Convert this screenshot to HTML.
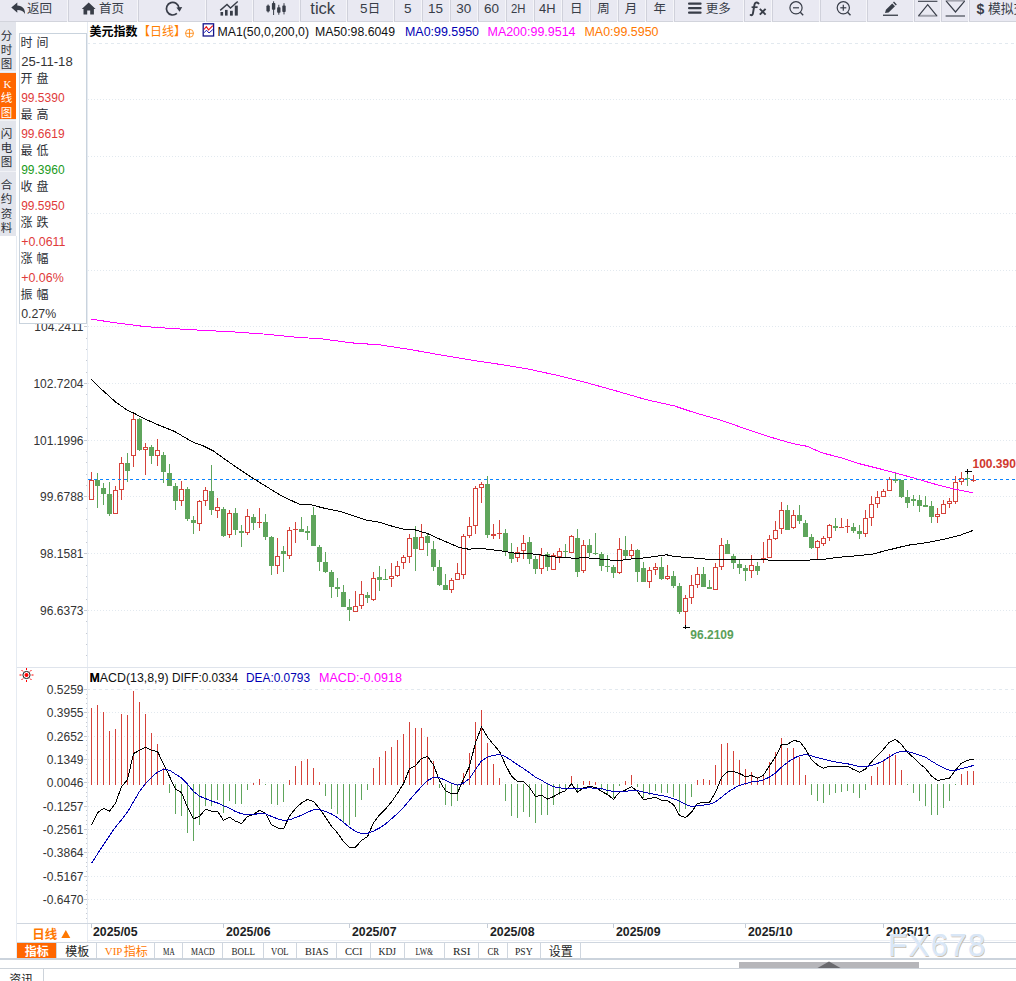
<!DOCTYPE html><html><head><meta charset="utf-8"><title>chart</title><style>html,body{margin:0;padding:0;background:#fff}svg{display:block}</style></head><body><svg width="1016" height="981" viewBox="0 0 1016 981" font-family="'Liberation Sans', 'Noto Sans CJK SC', sans-serif" font-size="12">
<rect x="0" y="0" width="1016" height="981" fill="#fff"/>
<g shape-rendering="crispEdges">
<line x1="88" y1="43.5" x2="1016" y2="43.5" stroke="#e2e9ef" stroke-width="1" stroke-dasharray="3 3" stroke-dashoffset="1"/>
<line x1="88" y1="99.5" x2="1016" y2="99.5" stroke="#e2e9ef" stroke-width="1" stroke-dasharray="1 2"/>
<line x1="88" y1="156.5" x2="1016" y2="156.5" stroke="#e2e9ef" stroke-width="1" stroke-dasharray="1 2"/>
<line x1="88" y1="213.5" x2="1016" y2="213.5" stroke="#e2e9ef" stroke-width="1" stroke-dasharray="1 2"/>
<line x1="88" y1="270.5" x2="1016" y2="270.5" stroke="#e2e9ef" stroke-width="1" stroke-dasharray="1 2"/>
<line x1="88" y1="326.5" x2="1016" y2="326.5" stroke="#e2e9ef" stroke-width="1" stroke-dasharray="1 2"/>
<line x1="88" y1="383.5" x2="1016" y2="383.5" stroke="#e2e9ef" stroke-width="1" stroke-dasharray="1 2"/>
<line x1="88" y1="440.5" x2="1016" y2="440.5" stroke="#e2e9ef" stroke-width="1" stroke-dasharray="1 2"/>
<line x1="88" y1="496.5" x2="1016" y2="496.5" stroke="#e2e9ef" stroke-width="1" stroke-dasharray="1 2"/>
<line x1="88" y1="553.5" x2="1016" y2="553.5" stroke="#e2e9ef" stroke-width="1" stroke-dasharray="1 2"/>
<line x1="88" y1="610.5" x2="1016" y2="610.5" stroke="#e2e9ef" stroke-width="1" stroke-dasharray="1 2"/>
<line x1="88" y1="689.5" x2="1016" y2="689.5" stroke="#e2e9ef" stroke-width="1" stroke-dasharray="3 3" stroke-dashoffset="1"/>
<line x1="88" y1="712.5" x2="1016" y2="712.5" stroke="#e2e9ef" stroke-width="1" stroke-dasharray="1 2"/>
<line x1="88" y1="736.5" x2="1016" y2="736.5" stroke="#e2e9ef" stroke-width="1" stroke-dasharray="1 2"/>
<line x1="88" y1="759.5" x2="1016" y2="759.5" stroke="#e2e9ef" stroke-width="1" stroke-dasharray="1 2"/>
<line x1="88" y1="782.5" x2="1016" y2="782.5" stroke="#e2e9ef" stroke-width="1" stroke-dasharray="1 2"/>
<line x1="88" y1="806.5" x2="1016" y2="806.5" stroke="#e2e9ef" stroke-width="1" stroke-dasharray="1 2"/>
<line x1="88" y1="829.5" x2="1016" y2="829.5" stroke="#e2e9ef" stroke-width="1" stroke-dasharray="1 2"/>
<line x1="88" y1="852.5" x2="1016" y2="852.5" stroke="#e2e9ef" stroke-width="1" stroke-dasharray="1 2"/>
<line x1="88" y1="876.5" x2="1016" y2="876.5" stroke="#e2e9ef" stroke-width="1" stroke-dasharray="1 2"/>
<line x1="88" y1="899.5" x2="1016" y2="899.5" stroke="#e2e9ef" stroke-width="1" stroke-dasharray="1 2"/>
<line x1="16.5" y1="236" x2="16.5" y2="959" stroke="#e6ebf2" stroke-width="1"/>
<line x1="87.5" y1="21" x2="87.5" y2="942" stroke="#e6ebf2" stroke-width="1"/>
<line x1="17" y1="667.5" x2="1016" y2="667.5" stroke="#dfe4ec" stroke-width="1"/>
<line x1="17" y1="923.5" x2="1016" y2="923.5" stroke="#cfd6df" stroke-width="1"/>
<rect x="84" y="42" width="3" height="1" fill="#c6cad2"/>
<rect x="86" y="54" width="1" height="1" fill="#c6cad2"/>
<rect x="86" y="65" width="1" height="1" fill="#c6cad2"/>
<rect x="86" y="77" width="1" height="1" fill="#c6cad2"/>
<rect x="86" y="88" width="1" height="1" fill="#c6cad2"/>
<rect x="84" y="99" width="3" height="1" fill="#c6cad2"/>
<rect x="86" y="111" width="1" height="1" fill="#c6cad2"/>
<rect x="86" y="122" width="1" height="1" fill="#c6cad2"/>
<rect x="86" y="133" width="1" height="1" fill="#c6cad2"/>
<rect x="86" y="145" width="1" height="1" fill="#c6cad2"/>
<rect x="84" y="156" width="3" height="1" fill="#c6cad2"/>
<rect x="86" y="167" width="1" height="1" fill="#c6cad2"/>
<rect x="86" y="179" width="1" height="1" fill="#c6cad2"/>
<rect x="86" y="190" width="1" height="1" fill="#c6cad2"/>
<rect x="86" y="201" width="1" height="1" fill="#c6cad2"/>
<rect x="84" y="213" width="3" height="1" fill="#c6cad2"/>
<rect x="86" y="224" width="1" height="1" fill="#c6cad2"/>
<rect x="86" y="235" width="1" height="1" fill="#c6cad2"/>
<rect x="86" y="247" width="1" height="1" fill="#c6cad2"/>
<rect x="86" y="258" width="1" height="1" fill="#c6cad2"/>
<rect x="84" y="270" width="3" height="1" fill="#c6cad2"/>
<rect x="86" y="281" width="1" height="1" fill="#c6cad2"/>
<rect x="86" y="292" width="1" height="1" fill="#c6cad2"/>
<rect x="86" y="304" width="1" height="1" fill="#c6cad2"/>
<rect x="86" y="315" width="1" height="1" fill="#c6cad2"/>
<rect x="84" y="326" width="3" height="1" fill="#c6cad2"/>
<rect x="86" y="338" width="1" height="1" fill="#c6cad2"/>
<rect x="86" y="349" width="1" height="1" fill="#c6cad2"/>
<rect x="86" y="360" width="1" height="1" fill="#c6cad2"/>
<rect x="86" y="372" width="1" height="1" fill="#c6cad2"/>
<rect x="84" y="383" width="3" height="1" fill="#c6cad2"/>
<rect x="86" y="394" width="1" height="1" fill="#c6cad2"/>
<rect x="86" y="406" width="1" height="1" fill="#c6cad2"/>
<rect x="86" y="417" width="1" height="1" fill="#c6cad2"/>
<rect x="86" y="428" width="1" height="1" fill="#c6cad2"/>
<rect x="84" y="440" width="3" height="1" fill="#c6cad2"/>
<rect x="86" y="451" width="1" height="1" fill="#c6cad2"/>
<rect x="86" y="462" width="1" height="1" fill="#c6cad2"/>
<rect x="86" y="474" width="1" height="1" fill="#c6cad2"/>
<rect x="86" y="485" width="1" height="1" fill="#c6cad2"/>
<rect x="84" y="496" width="3" height="1" fill="#c6cad2"/>
<rect x="86" y="508" width="1" height="1" fill="#c6cad2"/>
<rect x="86" y="519" width="1" height="1" fill="#c6cad2"/>
<rect x="86" y="531" width="1" height="1" fill="#c6cad2"/>
<rect x="86" y="542" width="1" height="1" fill="#c6cad2"/>
<rect x="84" y="553" width="3" height="1" fill="#c6cad2"/>
<rect x="86" y="565" width="1" height="1" fill="#c6cad2"/>
<rect x="86" y="576" width="1" height="1" fill="#c6cad2"/>
<rect x="86" y="587" width="1" height="1" fill="#c6cad2"/>
<rect x="86" y="599" width="1" height="1" fill="#c6cad2"/>
<rect x="84" y="610" width="3" height="1" fill="#c6cad2"/>
<rect x="86" y="621" width="1" height="1" fill="#c6cad2"/>
<rect x="86" y="633" width="1" height="1" fill="#c6cad2"/>
<rect x="86" y="644" width="1" height="1" fill="#c6cad2"/>
<rect x="86" y="655" width="1" height="1" fill="#c6cad2"/>
<rect x="84" y="689" width="3" height="1" fill="#c6cad2"/>
<rect x="86" y="694" width="1" height="1" fill="#c6cad2"/>
<rect x="86" y="698" width="1" height="1" fill="#c6cad2"/>
<rect x="86" y="703" width="1" height="1" fill="#c6cad2"/>
<rect x="86" y="708" width="1" height="1" fill="#c6cad2"/>
<rect x="84" y="712" width="3" height="1" fill="#c6cad2"/>
<rect x="86" y="717" width="1" height="1" fill="#c6cad2"/>
<rect x="86" y="722" width="1" height="1" fill="#c6cad2"/>
<rect x="86" y="726" width="1" height="1" fill="#c6cad2"/>
<rect x="86" y="731" width="1" height="1" fill="#c6cad2"/>
<rect x="84" y="736" width="3" height="1" fill="#c6cad2"/>
<rect x="86" y="740" width="1" height="1" fill="#c6cad2"/>
<rect x="86" y="745" width="1" height="1" fill="#c6cad2"/>
<rect x="86" y="750" width="1" height="1" fill="#c6cad2"/>
<rect x="86" y="754" width="1" height="1" fill="#c6cad2"/>
<rect x="84" y="759" width="3" height="1" fill="#c6cad2"/>
<rect x="86" y="764" width="1" height="1" fill="#c6cad2"/>
<rect x="86" y="768" width="1" height="1" fill="#c6cad2"/>
<rect x="86" y="773" width="1" height="1" fill="#c6cad2"/>
<rect x="86" y="778" width="1" height="1" fill="#c6cad2"/>
<rect x="84" y="782" width="3" height="1" fill="#c6cad2"/>
<rect x="86" y="787" width="1" height="1" fill="#c6cad2"/>
<rect x="86" y="792" width="1" height="1" fill="#c6cad2"/>
<rect x="86" y="796" width="1" height="1" fill="#c6cad2"/>
<rect x="86" y="801" width="1" height="1" fill="#c6cad2"/>
<rect x="84" y="806" width="3" height="1" fill="#c6cad2"/>
<rect x="86" y="810" width="1" height="1" fill="#c6cad2"/>
<rect x="86" y="815" width="1" height="1" fill="#c6cad2"/>
<rect x="86" y="820" width="1" height="1" fill="#c6cad2"/>
<rect x="86" y="824" width="1" height="1" fill="#c6cad2"/>
<rect x="84" y="829" width="3" height="1" fill="#c6cad2"/>
<rect x="86" y="834" width="1" height="1" fill="#c6cad2"/>
<rect x="86" y="838" width="1" height="1" fill="#c6cad2"/>
<rect x="86" y="843" width="1" height="1" fill="#c6cad2"/>
<rect x="86" y="848" width="1" height="1" fill="#c6cad2"/>
<rect x="84" y="852" width="3" height="1" fill="#c6cad2"/>
<rect x="86" y="857" width="1" height="1" fill="#c6cad2"/>
<rect x="86" y="862" width="1" height="1" fill="#c6cad2"/>
<rect x="86" y="866" width="1" height="1" fill="#c6cad2"/>
<rect x="86" y="871" width="1" height="1" fill="#c6cad2"/>
<rect x="84" y="876" width="3" height="1" fill="#c6cad2"/>
<rect x="86" y="880" width="1" height="1" fill="#c6cad2"/>
<rect x="86" y="885" width="1" height="1" fill="#c6cad2"/>
<rect x="86" y="890" width="1" height="1" fill="#c6cad2"/>
<rect x="86" y="894" width="1" height="1" fill="#c6cad2"/>
<rect x="84" y="899" width="3" height="1" fill="#c6cad2"/>
<rect x="86" y="904" width="1" height="1" fill="#c6cad2"/>
<rect x="86" y="908" width="1" height="1" fill="#c6cad2"/>
<rect x="86" y="913" width="1" height="1" fill="#c6cad2"/>
<rect x="86" y="918" width="1" height="1" fill="#c6cad2"/>
</g>
<text x="83.5" y="330.8" font-size="12" fill="#333" text-anchor="end">104.2411</text>
<text x="83.5" y="387.8" font-size="12" fill="#333" text-anchor="end">102.7204</text>
<text x="83.5" y="444.8" font-size="12" fill="#333" text-anchor="end">101.1996</text>
<text x="83.5" y="500.8" font-size="12" fill="#333" text-anchor="end">99.6788</text>
<text x="83.5" y="557.8" font-size="12" fill="#333" text-anchor="end">98.1581</text>
<text x="83.5" y="614.8" font-size="12" fill="#333" text-anchor="end">96.6373</text>
<text x="83.5" y="693.8" font-size="12" fill="#333" text-anchor="end">0.5259</text>
<text x="83.5" y="716.8" font-size="12" fill="#333" text-anchor="end">0.3955</text>
<text x="83.5" y="740.8" font-size="12" fill="#333" text-anchor="end">0.2652</text>
<text x="83.5" y="763.8" font-size="12" fill="#333" text-anchor="end">0.1349</text>
<text x="83.5" y="786.8" font-size="12" fill="#333" text-anchor="end">0.0046</text>
<text x="83.5" y="810.8" font-size="12" fill="#333" text-anchor="end">-0.1257</text>
<text x="83.5" y="833.8" font-size="12" fill="#333" text-anchor="end">-0.2561</text>
<text x="83.5" y="856.8" font-size="12" fill="#333" text-anchor="end">-0.3864</text>
<text x="83.5" y="880.8" font-size="12" fill="#333" text-anchor="end">-0.5167</text>
<text x="83.5" y="903.8" font-size="12" fill="#333" text-anchor="end">-0.6470</text>
<g shape-rendering="crispEdges">
<rect x="91" y="472" width="1" height="28" fill="#d5423a"/>
<rect x="89" y="480" width="5" height="20" fill="#d5423a"/>
<rect x="90" y="481" width="3" height="18" fill="#fff"/>
<rect x="97" y="473" width="1" height="35" fill="#5fa55c"/>
<rect x="95" y="480" width="5" height="6" fill="#5fa55c"/>
<rect x="103" y="483" width="1" height="22" fill="#5fa55c"/>
<rect x="101" y="488" width="5" height="6" fill="#5fa55c"/>
<rect x="109" y="482" width="1" height="34" fill="#5fa55c"/>
<rect x="107" y="494" width="5" height="20" fill="#5fa55c"/>
<rect x="115" y="486" width="1" height="28" fill="#d5423a"/>
<rect x="113" y="490" width="5" height="24" fill="#d5423a"/>
<rect x="114" y="491" width="3" height="22" fill="#fff"/>
<rect x="121" y="457" width="1" height="43" fill="#d5423a"/>
<rect x="119" y="463" width="5" height="27" fill="#d5423a"/>
<rect x="120" y="464" width="3" height="25" fill="#fff"/>
<rect x="127" y="453" width="1" height="29" fill="#5fa55c"/>
<rect x="125" y="463" width="5" height="8" fill="#5fa55c"/>
<rect x="133" y="413" width="1" height="54" fill="#d5423a"/>
<rect x="131" y="419" width="5" height="37" fill="#d5423a"/>
<rect x="132" y="420" width="3" height="35" fill="#fff"/>
<rect x="139" y="418" width="1" height="33" fill="#5fa55c"/>
<rect x="137" y="419" width="5" height="31" fill="#5fa55c"/>
<rect x="145" y="443" width="1" height="32" fill="#d5423a"/>
<rect x="143" y="447" width="5" height="3" fill="#d5423a"/>
<rect x="144" y="448" width="3" height="1" fill="#fff"/>
<rect x="151" y="445" width="1" height="19" fill="#5fa55c"/>
<rect x="149" y="447" width="5" height="9" fill="#5fa55c"/>
<rect x="157" y="439" width="1" height="27" fill="#d5423a"/>
<rect x="155" y="450" width="5" height="6" fill="#d5423a"/>
<rect x="156" y="451" width="3" height="4" fill="#fff"/>
<rect x="163" y="452" width="1" height="31" fill="#5fa55c"/>
<rect x="161" y="455" width="5" height="17" fill="#5fa55c"/>
<rect x="169" y="464" width="1" height="22" fill="#5fa55c"/>
<rect x="167" y="473" width="5" height="13" fill="#5fa55c"/>
<rect x="175" y="483" width="1" height="27" fill="#5fa55c"/>
<rect x="173" y="486" width="5" height="15" fill="#5fa55c"/>
<rect x="181" y="481" width="1" height="25" fill="#d5423a"/>
<rect x="179" y="489" width="5" height="12" fill="#d5423a"/>
<rect x="180" y="490" width="3" height="10" fill="#fff"/>
<rect x="187" y="487" width="1" height="34" fill="#5fa55c"/>
<rect x="185" y="489" width="5" height="30" fill="#5fa55c"/>
<rect x="193" y="516" width="1" height="18" fill="#5fa55c"/>
<rect x="191" y="520" width="5" height="3" fill="#5fa55c"/>
<rect x="199" y="500" width="1" height="31" fill="#d5423a"/>
<rect x="197" y="501" width="5" height="23" fill="#d5423a"/>
<rect x="198" y="502" width="3" height="21" fill="#fff"/>
<rect x="205" y="487" width="1" height="19" fill="#d5423a"/>
<rect x="203" y="490" width="5" height="11" fill="#d5423a"/>
<rect x="204" y="491" width="3" height="9" fill="#fff"/>
<rect x="211" y="465" width="1" height="50" fill="#5fa55c"/>
<rect x="209" y="491" width="5" height="19" fill="#5fa55c"/>
<rect x="217" y="498" width="1" height="20" fill="#d5423a"/>
<rect x="215" y="507" width="5" height="4" fill="#d5423a"/>
<rect x="216" y="508" width="3" height="2" fill="#fff"/>
<rect x="223" y="507" width="1" height="30" fill="#5fa55c"/>
<rect x="221" y="509" width="5" height="27" fill="#5fa55c"/>
<rect x="229" y="510" width="1" height="28" fill="#d5423a"/>
<rect x="227" y="513" width="5" height="22" fill="#d5423a"/>
<rect x="228" y="514" width="3" height="20" fill="#fff"/>
<rect x="235" y="508" width="1" height="27" fill="#5fa55c"/>
<rect x="233" y="513" width="5" height="17" fill="#5fa55c"/>
<rect x="241" y="525" width="1" height="22" fill="#5fa55c"/>
<rect x="239" y="531" width="5" height="2" fill="#5fa55c"/>
<rect x="247" y="509" width="1" height="26" fill="#d5423a"/>
<rect x="245" y="516" width="5" height="17" fill="#d5423a"/>
<rect x="246" y="517" width="3" height="15" fill="#fff"/>
<rect x="253" y="514" width="1" height="16" fill="#5fa55c"/>
<rect x="251" y="517" width="5" height="6" fill="#5fa55c"/>
<rect x="259" y="508" width="1" height="20" fill="#d5423a"/>
<rect x="257" y="522" width="5" height="1" fill="#d5423a"/>
<rect x="265" y="514" width="1" height="26" fill="#5fa55c"/>
<rect x="263" y="522" width="5" height="15" fill="#5fa55c"/>
<rect x="271" y="536" width="1" height="39" fill="#5fa55c"/>
<rect x="269" y="537" width="5" height="29" fill="#5fa55c"/>
<rect x="277" y="538" width="1" height="36" fill="#d5423a"/>
<rect x="275" y="556" width="5" height="10" fill="#d5423a"/>
<rect x="276" y="557" width="3" height="8" fill="#fff"/>
<rect x="283" y="546" width="1" height="26" fill="#5fa55c"/>
<rect x="281" y="551" width="5" height="3" fill="#5fa55c"/>
<rect x="289" y="527" width="1" height="32" fill="#d5423a"/>
<rect x="287" y="530" width="5" height="26" fill="#d5423a"/>
<rect x="288" y="531" width="3" height="24" fill="#fff"/>
<rect x="295" y="522" width="1" height="21" fill="#d5423a"/>
<rect x="293" y="529" width="5" height="1" fill="#d5423a"/>
<rect x="301" y="517" width="1" height="15" fill="#5fa55c"/>
<rect x="299" y="529" width="5" height="3" fill="#5fa55c"/>
<rect x="307" y="526" width="1" height="14" fill="#5fa55c"/>
<rect x="305" y="531" width="5" height="2" fill="#5fa55c"/>
<rect x="313" y="507" width="1" height="39" fill="#5fa55c"/>
<rect x="311" y="515" width="5" height="31" fill="#5fa55c"/>
<rect x="319" y="545" width="1" height="26" fill="#5fa55c"/>
<rect x="317" y="547" width="5" height="15" fill="#5fa55c"/>
<rect x="325" y="552" width="1" height="21" fill="#5fa55c"/>
<rect x="323" y="562" width="5" height="10" fill="#5fa55c"/>
<rect x="331" y="570" width="1" height="28" fill="#5fa55c"/>
<rect x="329" y="572" width="5" height="15" fill="#5fa55c"/>
<rect x="337" y="578" width="1" height="19" fill="#5fa55c"/>
<rect x="335" y="587" width="5" height="2" fill="#5fa55c"/>
<rect x="343" y="585" width="1" height="22" fill="#5fa55c"/>
<rect x="341" y="592" width="5" height="15" fill="#5fa55c"/>
<rect x="349" y="599" width="1" height="22" fill="#5fa55c"/>
<rect x="347" y="607" width="5" height="3" fill="#5fa55c"/>
<rect x="355" y="591" width="1" height="21" fill="#d5423a"/>
<rect x="353" y="606" width="5" height="6" fill="#d5423a"/>
<rect x="354" y="607" width="3" height="4" fill="#fff"/>
<rect x="361" y="581" width="1" height="28" fill="#d5423a"/>
<rect x="359" y="594" width="5" height="12" fill="#d5423a"/>
<rect x="360" y="595" width="3" height="10" fill="#fff"/>
<rect x="367" y="592" width="1" height="11" fill="#5fa55c"/>
<rect x="365" y="595" width="5" height="3" fill="#5fa55c"/>
<rect x="373" y="572" width="1" height="29" fill="#d5423a"/>
<rect x="371" y="578" width="5" height="22" fill="#d5423a"/>
<rect x="372" y="579" width="3" height="20" fill="#fff"/>
<rect x="379" y="566" width="1" height="25" fill="#5fa55c"/>
<rect x="377" y="577" width="5" height="3" fill="#5fa55c"/>
<rect x="385" y="569" width="1" height="11" fill="#5fa55c"/>
<rect x="383" y="579" width="5" height="1" fill="#5fa55c"/>
<rect x="391" y="563" width="1" height="24" fill="#d5423a"/>
<rect x="389" y="576" width="5" height="3" fill="#d5423a"/>
<rect x="390" y="577" width="3" height="1" fill="#fff"/>
<rect x="397" y="561" width="1" height="16" fill="#d5423a"/>
<rect x="395" y="566" width="5" height="10" fill="#d5423a"/>
<rect x="396" y="567" width="3" height="8" fill="#fff"/>
<rect x="403" y="555" width="1" height="14" fill="#d5423a"/>
<rect x="401" y="557" width="5" height="6" fill="#d5423a"/>
<rect x="402" y="558" width="3" height="4" fill="#fff"/>
<rect x="409" y="534" width="1" height="29" fill="#d5423a"/>
<rect x="407" y="538" width="5" height="19" fill="#d5423a"/>
<rect x="408" y="539" width="3" height="17" fill="#fff"/>
<rect x="415" y="526" width="1" height="45" fill="#5fa55c"/>
<rect x="413" y="537" width="5" height="12" fill="#5fa55c"/>
<rect x="421" y="524" width="1" height="26" fill="#d5423a"/>
<rect x="419" y="537" width="5" height="13" fill="#d5423a"/>
<rect x="420" y="538" width="3" height="11" fill="#fff"/>
<rect x="427" y="534" width="1" height="22" fill="#5fa55c"/>
<rect x="425" y="536" width="5" height="7" fill="#5fa55c"/>
<rect x="433" y="541" width="1" height="30" fill="#5fa55c"/>
<rect x="431" y="549" width="5" height="18" fill="#5fa55c"/>
<rect x="439" y="560" width="1" height="26" fill="#5fa55c"/>
<rect x="437" y="567" width="5" height="18" fill="#5fa55c"/>
<rect x="445" y="574" width="1" height="16" fill="#5fa55c"/>
<rect x="443" y="585" width="5" height="5" fill="#5fa55c"/>
<rect x="451" y="578" width="1" height="15" fill="#d5423a"/>
<rect x="449" y="580" width="5" height="10" fill="#d5423a"/>
<rect x="450" y="581" width="3" height="8" fill="#fff"/>
<rect x="457" y="563" width="1" height="17" fill="#d5423a"/>
<rect x="455" y="573" width="5" height="7" fill="#d5423a"/>
<rect x="456" y="574" width="3" height="5" fill="#fff"/>
<rect x="463" y="534" width="1" height="45" fill="#d5423a"/>
<rect x="461" y="536" width="5" height="39" fill="#d5423a"/>
<rect x="462" y="537" width="3" height="37" fill="#fff"/>
<rect x="469" y="517" width="1" height="21" fill="#d5423a"/>
<rect x="467" y="526" width="5" height="10" fill="#d5423a"/>
<rect x="468" y="527" width="3" height="8" fill="#fff"/>
<rect x="475" y="486" width="1" height="48" fill="#d5423a"/>
<rect x="473" y="488" width="5" height="38" fill="#d5423a"/>
<rect x="474" y="489" width="3" height="36" fill="#fff"/>
<rect x="481" y="482" width="1" height="21" fill="#d5423a"/>
<rect x="479" y="484" width="5" height="4" fill="#d5423a"/>
<rect x="480" y="485" width="3" height="2" fill="#fff"/>
<rect x="487" y="476" width="1" height="62" fill="#5fa55c"/>
<rect x="485" y="484" width="5" height="51" fill="#5fa55c"/>
<rect x="493" y="524" width="1" height="15" fill="#d5423a"/>
<rect x="491" y="534" width="5" height="2" fill="#d5423a"/>
<rect x="499" y="520" width="1" height="19" fill="#d5423a"/>
<rect x="497" y="533" width="5" height="1" fill="#d5423a"/>
<rect x="505" y="529" width="1" height="27" fill="#5fa55c"/>
<rect x="503" y="533" width="5" height="19" fill="#5fa55c"/>
<rect x="511" y="543" width="1" height="20" fill="#5fa55c"/>
<rect x="509" y="553" width="5" height="6" fill="#5fa55c"/>
<rect x="517" y="547" width="1" height="15" fill="#d5423a"/>
<rect x="515" y="552" width="5" height="6" fill="#d5423a"/>
<rect x="516" y="553" width="3" height="4" fill="#fff"/>
<rect x="523" y="535" width="1" height="24" fill="#d5423a"/>
<rect x="521" y="543" width="5" height="8" fill="#d5423a"/>
<rect x="522" y="544" width="3" height="6" fill="#fff"/>
<rect x="529" y="537" width="1" height="27" fill="#5fa55c"/>
<rect x="527" y="542" width="5" height="17" fill="#5fa55c"/>
<rect x="535" y="556" width="1" height="18" fill="#5fa55c"/>
<rect x="533" y="559" width="5" height="10" fill="#5fa55c"/>
<rect x="541" y="548" width="1" height="26" fill="#d5423a"/>
<rect x="539" y="555" width="5" height="14" fill="#d5423a"/>
<rect x="540" y="556" width="3" height="12" fill="#fff"/>
<rect x="547" y="552" width="1" height="19" fill="#5fa55c"/>
<rect x="545" y="554" width="5" height="13" fill="#5fa55c"/>
<rect x="553" y="553" width="1" height="17" fill="#d5423a"/>
<rect x="551" y="555" width="5" height="15" fill="#d5423a"/>
<rect x="552" y="556" width="3" height="13" fill="#fff"/>
<rect x="559" y="548" width="1" height="15" fill="#d5423a"/>
<rect x="557" y="551" width="5" height="6" fill="#d5423a"/>
<rect x="558" y="552" width="3" height="4" fill="#fff"/>
<rect x="565" y="544" width="1" height="13" fill="#5fa55c"/>
<rect x="563" y="551" width="5" height="1" fill="#5fa55c"/>
<rect x="571" y="535" width="1" height="18" fill="#d5423a"/>
<rect x="569" y="536" width="5" height="17" fill="#d5423a"/>
<rect x="570" y="537" width="3" height="15" fill="#fff"/>
<rect x="577" y="529" width="1" height="48" fill="#5fa55c"/>
<rect x="575" y="538" width="5" height="34" fill="#5fa55c"/>
<rect x="583" y="540" width="1" height="33" fill="#d5423a"/>
<rect x="581" y="545" width="5" height="26" fill="#d5423a"/>
<rect x="582" y="546" width="3" height="24" fill="#fff"/>
<rect x="589" y="539" width="1" height="18" fill="#5fa55c"/>
<rect x="587" y="545" width="5" height="8" fill="#5fa55c"/>
<rect x="595" y="533" width="1" height="22" fill="#5fa55c"/>
<rect x="593" y="553" width="5" height="1" fill="#5fa55c"/>
<rect x="601" y="552" width="1" height="19" fill="#5fa55c"/>
<rect x="599" y="554" width="5" height="12" fill="#5fa55c"/>
<rect x="607" y="555" width="1" height="17" fill="#5fa55c"/>
<rect x="605" y="566" width="5" height="1" fill="#5fa55c"/>
<rect x="613" y="565" width="1" height="13" fill="#5fa55c"/>
<rect x="611" y="567" width="5" height="6" fill="#5fa55c"/>
<rect x="619" y="538" width="1" height="36" fill="#d5423a"/>
<rect x="617" y="549" width="5" height="24" fill="#d5423a"/>
<rect x="618" y="550" width="3" height="22" fill="#fff"/>
<rect x="625" y="536" width="1" height="23" fill="#5fa55c"/>
<rect x="623" y="550" width="5" height="6" fill="#5fa55c"/>
<rect x="631" y="544" width="1" height="14" fill="#d5423a"/>
<rect x="629" y="550" width="5" height="6" fill="#d5423a"/>
<rect x="630" y="551" width="3" height="4" fill="#fff"/>
<rect x="637" y="549" width="1" height="33" fill="#5fa55c"/>
<rect x="635" y="550" width="5" height="22" fill="#5fa55c"/>
<rect x="643" y="562" width="1" height="20" fill="#5fa55c"/>
<rect x="641" y="568" width="5" height="14" fill="#5fa55c"/>
<rect x="649" y="567" width="1" height="21" fill="#d5423a"/>
<rect x="647" y="570" width="5" height="12" fill="#d5423a"/>
<rect x="648" y="571" width="3" height="10" fill="#fff"/>
<rect x="655" y="563" width="1" height="12" fill="#d5423a"/>
<rect x="653" y="567" width="5" height="3" fill="#d5423a"/>
<rect x="654" y="568" width="3" height="1" fill="#fff"/>
<rect x="661" y="557" width="1" height="23" fill="#5fa55c"/>
<rect x="659" y="567" width="5" height="12" fill="#5fa55c"/>
<rect x="667" y="565" width="1" height="15" fill="#d5423a"/>
<rect x="665" y="576" width="5" height="3" fill="#d5423a"/>
<rect x="666" y="577" width="3" height="1" fill="#fff"/>
<rect x="673" y="571" width="1" height="17" fill="#5fa55c"/>
<rect x="671" y="576" width="5" height="10" fill="#5fa55c"/>
<rect x="679" y="583" width="1" height="31" fill="#5fa55c"/>
<rect x="677" y="586" width="5" height="26" fill="#5fa55c"/>
<rect x="685" y="595" width="1" height="32" fill="#d5423a"/>
<rect x="683" y="598" width="5" height="14" fill="#d5423a"/>
<rect x="684" y="599" width="3" height="12" fill="#fff"/>
<rect x="691" y="575" width="1" height="29" fill="#d5423a"/>
<rect x="689" y="585" width="5" height="13" fill="#d5423a"/>
<rect x="690" y="586" width="3" height="11" fill="#fff"/>
<rect x="697" y="567" width="1" height="21" fill="#d5423a"/>
<rect x="695" y="574" width="5" height="11" fill="#d5423a"/>
<rect x="696" y="575" width="3" height="9" fill="#fff"/>
<rect x="703" y="567" width="1" height="20" fill="#5fa55c"/>
<rect x="701" y="574" width="5" height="13" fill="#5fa55c"/>
<rect x="709" y="580" width="1" height="9" fill="#5fa55c"/>
<rect x="707" y="587" width="5" height="2" fill="#5fa55c"/>
<rect x="715" y="563" width="1" height="27" fill="#d5423a"/>
<rect x="713" y="567" width="5" height="23" fill="#d5423a"/>
<rect x="714" y="568" width="3" height="21" fill="#fff"/>
<rect x="721" y="538" width="1" height="32" fill="#d5423a"/>
<rect x="719" y="545" width="5" height="22" fill="#d5423a"/>
<rect x="720" y="546" width="3" height="20" fill="#fff"/>
<rect x="727" y="540" width="1" height="14" fill="#5fa55c"/>
<rect x="725" y="544" width="5" height="10" fill="#5fa55c"/>
<rect x="733" y="554" width="1" height="15" fill="#5fa55c"/>
<rect x="731" y="556" width="5" height="7" fill="#5fa55c"/>
<rect x="739" y="560" width="1" height="14" fill="#5fa55c"/>
<rect x="737" y="564" width="5" height="4" fill="#5fa55c"/>
<rect x="745" y="565" width="1" height="16" fill="#5fa55c"/>
<rect x="743" y="568" width="5" height="3" fill="#5fa55c"/>
<rect x="751" y="555" width="1" height="23" fill="#d5423a"/>
<rect x="749" y="565" width="5" height="6" fill="#d5423a"/>
<rect x="750" y="566" width="3" height="4" fill="#fff"/>
<rect x="757" y="562" width="1" height="13" fill="#5fa55c"/>
<rect x="755" y="566" width="5" height="5" fill="#5fa55c"/>
<rect x="763" y="542" width="1" height="21" fill="#d5423a"/>
<rect x="761" y="558" width="5" height="1" fill="#d5423a"/>
<rect x="769" y="535" width="1" height="23" fill="#d5423a"/>
<rect x="767" y="539" width="5" height="19" fill="#d5423a"/>
<rect x="768" y="540" width="3" height="17" fill="#fff"/>
<rect x="775" y="521" width="1" height="19" fill="#d5423a"/>
<rect x="773" y="530" width="5" height="9" fill="#d5423a"/>
<rect x="774" y="531" width="3" height="7" fill="#fff"/>
<rect x="781" y="502" width="1" height="32" fill="#d5423a"/>
<rect x="779" y="510" width="5" height="19" fill="#d5423a"/>
<rect x="780" y="511" width="3" height="17" fill="#fff"/>
<rect x="787" y="505" width="1" height="25" fill="#5fa55c"/>
<rect x="785" y="510" width="5" height="20" fill="#5fa55c"/>
<rect x="793" y="510" width="1" height="19" fill="#d5423a"/>
<rect x="791" y="515" width="5" height="13" fill="#d5423a"/>
<rect x="792" y="516" width="3" height="11" fill="#fff"/>
<rect x="799" y="505" width="1" height="19" fill="#5fa55c"/>
<rect x="797" y="515" width="5" height="6" fill="#5fa55c"/>
<rect x="805" y="520" width="1" height="17" fill="#5fa55c"/>
<rect x="803" y="523" width="5" height="14" fill="#5fa55c"/>
<rect x="811" y="534" width="1" height="15" fill="#5fa55c"/>
<rect x="809" y="537" width="5" height="11" fill="#5fa55c"/>
<rect x="817" y="540" width="1" height="19" fill="#d5423a"/>
<rect x="815" y="541" width="5" height="7" fill="#d5423a"/>
<rect x="816" y="542" width="3" height="5" fill="#fff"/>
<rect x="823" y="536" width="1" height="10" fill="#d5423a"/>
<rect x="821" y="538" width="5" height="6" fill="#d5423a"/>
<rect x="822" y="539" width="3" height="4" fill="#fff"/>
<rect x="829" y="524" width="1" height="17" fill="#d5423a"/>
<rect x="827" y="525" width="5" height="13" fill="#d5423a"/>
<rect x="828" y="526" width="3" height="11" fill="#fff"/>
<rect x="835" y="518" width="1" height="13" fill="#5fa55c"/>
<rect x="833" y="526" width="5" height="2" fill="#5fa55c"/>
<rect x="841" y="518" width="1" height="10" fill="#d5423a"/>
<rect x="839" y="527" width="5" height="1" fill="#d5423a"/>
<rect x="847" y="519" width="1" height="14" fill="#d5423a"/>
<rect x="845" y="526" width="5" height="1" fill="#d5423a"/>
<rect x="853" y="523" width="1" height="10" fill="#5fa55c"/>
<rect x="851" y="527" width="5" height="4" fill="#5fa55c"/>
<rect x="859" y="525" width="1" height="14" fill="#5fa55c"/>
<rect x="857" y="531" width="5" height="3" fill="#5fa55c"/>
<rect x="865" y="510" width="1" height="27" fill="#d5423a"/>
<rect x="863" y="518" width="5" height="16" fill="#d5423a"/>
<rect x="864" y="519" width="3" height="14" fill="#fff"/>
<rect x="871" y="496" width="1" height="30" fill="#d5423a"/>
<rect x="869" y="504" width="5" height="14" fill="#d5423a"/>
<rect x="870" y="505" width="3" height="12" fill="#fff"/>
<rect x="877" y="491" width="1" height="17" fill="#d5423a"/>
<rect x="875" y="497" width="5" height="7" fill="#d5423a"/>
<rect x="876" y="498" width="3" height="5" fill="#fff"/>
<rect x="883" y="489" width="1" height="8" fill="#d5423a"/>
<rect x="881" y="491" width="5" height="6" fill="#d5423a"/>
<rect x="882" y="492" width="3" height="4" fill="#fff"/>
<rect x="889" y="477" width="1" height="14" fill="#d5423a"/>
<rect x="887" y="479" width="5" height="12" fill="#d5423a"/>
<rect x="888" y="480" width="3" height="10" fill="#fff"/>
<rect x="895" y="472" width="1" height="11" fill="#5fa55c"/>
<rect x="893" y="479" width="5" height="2" fill="#5fa55c"/>
<rect x="901" y="480" width="1" height="18" fill="#5fa55c"/>
<rect x="899" y="480" width="5" height="17" fill="#5fa55c"/>
<rect x="907" y="490" width="1" height="18" fill="#5fa55c"/>
<rect x="905" y="497" width="5" height="6" fill="#5fa55c"/>
<rect x="913" y="495" width="1" height="11" fill="#5fa55c"/>
<rect x="911" y="499" width="5" height="2" fill="#5fa55c"/>
<rect x="919" y="495" width="1" height="17" fill="#5fa55c"/>
<rect x="917" y="500" width="5" height="6" fill="#5fa55c"/>
<rect x="925" y="496" width="1" height="11" fill="#5fa55c"/>
<rect x="923" y="505" width="5" height="2" fill="#5fa55c"/>
<rect x="931" y="501" width="1" height="22" fill="#5fa55c"/>
<rect x="929" y="506" width="5" height="11" fill="#5fa55c"/>
<rect x="937" y="508" width="1" height="15" fill="#d5423a"/>
<rect x="935" y="514" width="5" height="3" fill="#d5423a"/>
<rect x="936" y="515" width="3" height="1" fill="#fff"/>
<rect x="943" y="500" width="1" height="14" fill="#d5423a"/>
<rect x="941" y="504" width="5" height="10" fill="#d5423a"/>
<rect x="942" y="505" width="3" height="8" fill="#fff"/>
<rect x="949" y="498" width="1" height="10" fill="#d5423a"/>
<rect x="947" y="501" width="5" height="3" fill="#d5423a"/>
<rect x="948" y="502" width="3" height="1" fill="#fff"/>
<rect x="955" y="476" width="1" height="28" fill="#d5423a"/>
<rect x="953" y="482" width="5" height="20" fill="#d5423a"/>
<rect x="954" y="483" width="3" height="18" fill="#fff"/>
<rect x="961" y="472" width="1" height="13" fill="#d5423a"/>
<rect x="959" y="478" width="5" height="4" fill="#d5423a"/>
<rect x="960" y="479" width="3" height="2" fill="#fff"/>
<rect x="967" y="471" width="1" height="15" fill="#5fa55c"/>
<rect x="965" y="478" width="5" height="1" fill="#5fa55c"/>
<rect x="973" y="475" width="1" height="7" fill="#d5423a"/>
<rect x="971" y="480" width="5" height="1" fill="#d5423a"/>
</g>
<polyline fill="none" stroke="#ff00ff" stroke-width="1" shape-rendering="crispEdges" points="91.3,319.2 115.6,322.8 145.1,326.6 174.7,328.7 204.2,330.4 233.8,331.9 263.4,334 292.9,336.9 322.5,339 352,342.9 380,344.9 409.6,349.4 439.1,354.7 468.7,359.7 498.2,364.1 527.8,368.9 557.4,375.4 586.9,382.8 616.5,391 646,399.6 674,405.8 688.8,410.8 703.6,415.3 721.3,420.3 744.9,428.6 768.6,436.6 792.2,443.4 807,446.3 821.8,452.8 839.5,457.3 857.3,463.2 880.9,469.1 898.7,473.8 916.4,478.8 934.1,483.9 951.9,488.6 972.6,492.7"/>
<polyline fill="none" stroke="#000" stroke-width="1" shape-rendering="crispEdges" points="91.3,379.2 100.8,388.7 115.6,402 127.4,410.3 133.3,412.9 145.1,419.1 159.9,425.6 174.7,431.5 192.4,441.9 204.2,446.3 213.1,450.8 233.8,465.5 251.5,477.4 263.4,484.7 281.1,495.7 298.8,504 310.7,504.6 322.5,507.8 340.2,511.4 352,515.2 366.8,520.2 380,522.3 391.8,526.1 403.6,529.1 415.5,530 427.3,533.5 439.1,538.8 450.9,543.9 459.8,547.7 468.7,549.2 480.5,548.3 492.3,549.8 504.1,551.3 516,553.3 527.8,553.3 539.6,554.8 551.4,556.6 563.3,557.8 575.1,558.1 586.9,557.8 598.7,558.9 610.6,560.1 622.4,560.1 634.2,558.6 646,557.8 657.9,556 666.7,554.8 674,556.6 688.8,557.5 706.5,559.2 733.1,559.2 762.7,559.5 774.5,560.7 801.1,560.4 821.8,559.5 839.5,557.2 857.3,555.7 872,554.2 886.8,550.4 907.5,545.3 928.2,542.4 946,538.8 960.7,535 972.6,530.6"/>
<line x1="88" y1="479.5" x2="1016" y2="479.5" stroke="#0a84ff" stroke-width="1" stroke-dasharray="3 3" shape-rendering="crispEdges"/>
<g shape-rendering="crispEdges">
<rect x="91" y="708" width="1" height="77" fill="#d5423a"/>
<rect x="97" y="705" width="1" height="80" fill="#d5423a"/>
<rect x="103" y="712" width="1" height="73" fill="#d5423a"/>
<rect x="109" y="731" width="1" height="54" fill="#d5423a"/>
<rect x="115" y="729" width="1" height="56" fill="#d5423a"/>
<rect x="121" y="714" width="1" height="71" fill="#d5423a"/>
<rect x="127" y="715" width="1" height="70" fill="#d5423a"/>
<rect x="133" y="691" width="1" height="94" fill="#d5423a"/>
<rect x="139" y="702" width="1" height="83" fill="#d5423a"/>
<rect x="145" y="714" width="1" height="71" fill="#d5423a"/>
<rect x="151" y="733" width="1" height="52" fill="#d5423a"/>
<rect x="157" y="744" width="1" height="41" fill="#d5423a"/>
<rect x="163" y="768" width="1" height="17" fill="#d5423a"/>
<rect x="169" y="784" width="1" height="9" fill="#5fa55c"/>
<rect x="175" y="784" width="1" height="30" fill="#5fa55c"/>
<rect x="181" y="784" width="1" height="32" fill="#5fa55c"/>
<rect x="187" y="784" width="1" height="49" fill="#5fa55c"/>
<rect x="193" y="784" width="1" height="57" fill="#5fa55c"/>
<rect x="199" y="784" width="1" height="41" fill="#5fa55c"/>
<rect x="205" y="784" width="1" height="22" fill="#5fa55c"/>
<rect x="211" y="784" width="1" height="22" fill="#5fa55c"/>
<rect x="217" y="784" width="1" height="16" fill="#5fa55c"/>
<rect x="223" y="784" width="1" height="29" fill="#5fa55c"/>
<rect x="229" y="784" width="1" height="17" fill="#5fa55c"/>
<rect x="235" y="784" width="1" height="20" fill="#5fa55c"/>
<rect x="241" y="784" width="1" height="20" fill="#5fa55c"/>
<rect x="247" y="784" width="1" height="6" fill="#5fa55c"/>
<rect x="253" y="783" width="1" height="2" fill="#d5423a"/>
<rect x="259" y="779" width="1" height="6" fill="#d5423a"/>
<rect x="265" y="784" width="1" height="1" fill="#5fa55c"/>
<rect x="271" y="784" width="1" height="20" fill="#5fa55c"/>
<rect x="277" y="784" width="1" height="21" fill="#5fa55c"/>
<rect x="283" y="784" width="1" height="18" fill="#5fa55c"/>
<rect x="289" y="780" width="1" height="5" fill="#d5423a"/>
<rect x="295" y="766" width="1" height="19" fill="#d5423a"/>
<rect x="301" y="761" width="1" height="24" fill="#d5423a"/>
<rect x="307" y="759" width="1" height="26" fill="#d5423a"/>
<rect x="313" y="768" width="1" height="17" fill="#d5423a"/>
<rect x="319" y="782" width="1" height="3" fill="#d5423a"/>
<rect x="325" y="784" width="1" height="12" fill="#5fa55c"/>
<rect x="331" y="784" width="1" height="25" fill="#5fa55c"/>
<rect x="337" y="784" width="1" height="30" fill="#5fa55c"/>
<rect x="343" y="784" width="1" height="38" fill="#5fa55c"/>
<rect x="349" y="784" width="1" height="41" fill="#5fa55c"/>
<rect x="355" y="784" width="1" height="33" fill="#5fa55c"/>
<rect x="361" y="784" width="1" height="16" fill="#5fa55c"/>
<rect x="367" y="784" width="1" height="6" fill="#5fa55c"/>
<rect x="373" y="768" width="1" height="17" fill="#d5423a"/>
<rect x="379" y="757" width="1" height="28" fill="#d5423a"/>
<rect x="385" y="751" width="1" height="34" fill="#d5423a"/>
<rect x="391" y="747" width="1" height="38" fill="#d5423a"/>
<rect x="397" y="740" width="1" height="45" fill="#d5423a"/>
<rect x="403" y="734" width="1" height="51" fill="#d5423a"/>
<rect x="409" y="722" width="1" height="63" fill="#d5423a"/>
<rect x="415" y="728" width="1" height="57" fill="#d5423a"/>
<rect x="421" y="728" width="1" height="57" fill="#d5423a"/>
<rect x="427" y="737" width="1" height="48" fill="#d5423a"/>
<rect x="433" y="761" width="1" height="24" fill="#d5423a"/>
<rect x="439" y="784" width="1" height="4" fill="#5fa55c"/>
<rect x="445" y="784" width="1" height="21" fill="#5fa55c"/>
<rect x="451" y="784" width="1" height="22" fill="#5fa55c"/>
<rect x="457" y="784" width="1" height="17" fill="#5fa55c"/>
<rect x="463" y="773" width="1" height="12" fill="#d5423a"/>
<rect x="469" y="753" width="1" height="32" fill="#d5423a"/>
<rect x="475" y="722" width="1" height="63" fill="#d5423a"/>
<rect x="481" y="710" width="1" height="75" fill="#d5423a"/>
<rect x="487" y="743" width="1" height="42" fill="#d5423a"/>
<rect x="493" y="764" width="1" height="21" fill="#d5423a"/>
<rect x="499" y="778" width="1" height="7" fill="#d5423a"/>
<rect x="505" y="784" width="1" height="17" fill="#5fa55c"/>
<rect x="511" y="784" width="1" height="32" fill="#5fa55c"/>
<rect x="517" y="784" width="1" height="34" fill="#5fa55c"/>
<rect x="523" y="784" width="1" height="28" fill="#5fa55c"/>
<rect x="529" y="784" width="1" height="33" fill="#5fa55c"/>
<rect x="535" y="784" width="1" height="39" fill="#5fa55c"/>
<rect x="541" y="784" width="1" height="31" fill="#5fa55c"/>
<rect x="547" y="784" width="1" height="31" fill="#5fa55c"/>
<rect x="553" y="784" width="1" height="21" fill="#5fa55c"/>
<rect x="559" y="784" width="1" height="11" fill="#5fa55c"/>
<rect x="565" y="784" width="1" height="6" fill="#5fa55c"/>
<rect x="571" y="776" width="1" height="9" fill="#d5423a"/>
<rect x="577" y="784" width="1" height="7" fill="#5fa55c"/>
<rect x="583" y="781" width="1" height="4" fill="#d5423a"/>
<rect x="589" y="781" width="1" height="4" fill="#d5423a"/>
<rect x="595" y="782" width="1" height="3" fill="#d5423a"/>
<rect x="601" y="784" width="1" height="6" fill="#5fa55c"/>
<rect x="607" y="784" width="1" height="10" fill="#5fa55c"/>
<rect x="613" y="784" width="1" height="14" fill="#5fa55c"/>
<rect x="619" y="784" width="1" height="2" fill="#5fa55c"/>
<rect x="625" y="781" width="1" height="4" fill="#d5423a"/>
<rect x="631" y="775" width="1" height="10" fill="#d5423a"/>
<rect x="637" y="784" width="1" height="3" fill="#5fa55c"/>
<rect x="643" y="784" width="1" height="14" fill="#5fa55c"/>
<rect x="649" y="784" width="1" height="11" fill="#5fa55c"/>
<rect x="655" y="784" width="1" height="7" fill="#5fa55c"/>
<rect x="661" y="784" width="1" height="9" fill="#5fa55c"/>
<rect x="667" y="784" width="1" height="9" fill="#5fa55c"/>
<rect x="673" y="784" width="1" height="13" fill="#5fa55c"/>
<rect x="679" y="784" width="1" height="28" fill="#5fa55c"/>
<rect x="685" y="784" width="1" height="25" fill="#5fa55c"/>
<rect x="691" y="784" width="1" height="13" fill="#5fa55c"/>
<rect x="697" y="780" width="1" height="5" fill="#d5423a"/>
<rect x="703" y="779" width="1" height="6" fill="#d5423a"/>
<rect x="709" y="780" width="1" height="5" fill="#d5423a"/>
<rect x="715" y="765" width="1" height="20" fill="#d5423a"/>
<rect x="721" y="744" width="1" height="41" fill="#d5423a"/>
<rect x="727" y="743" width="1" height="42" fill="#d5423a"/>
<rect x="733" y="751" width="1" height="34" fill="#d5423a"/>
<rect x="739" y="760" width="1" height="25" fill="#d5423a"/>
<rect x="745" y="769" width="1" height="16" fill="#d5423a"/>
<rect x="751" y="772" width="1" height="13" fill="#d5423a"/>
<rect x="757" y="777" width="1" height="8" fill="#d5423a"/>
<rect x="763" y="775" width="1" height="10" fill="#d5423a"/>
<rect x="769" y="762" width="1" height="23" fill="#d5423a"/>
<rect x="775" y="752" width="1" height="33" fill="#d5423a"/>
<rect x="781" y="738" width="1" height="47" fill="#d5423a"/>
<rect x="787" y="748" width="1" height="37" fill="#d5423a"/>
<rect x="793" y="748" width="1" height="37" fill="#d5423a"/>
<rect x="799" y="757" width="1" height="28" fill="#d5423a"/>
<rect x="805" y="775" width="1" height="10" fill="#d5423a"/>
<rect x="811" y="784" width="1" height="11" fill="#5fa55c"/>
<rect x="817" y="784" width="1" height="17" fill="#5fa55c"/>
<rect x="823" y="784" width="1" height="19" fill="#5fa55c"/>
<rect x="829" y="784" width="1" height="11" fill="#5fa55c"/>
<rect x="835" y="784" width="1" height="9" fill="#5fa55c"/>
<rect x="841" y="784" width="1" height="8" fill="#5fa55c"/>
<rect x="847" y="784" width="1" height="7" fill="#5fa55c"/>
<rect x="853" y="784" width="1" height="9" fill="#5fa55c"/>
<rect x="859" y="784" width="1" height="14" fill="#5fa55c"/>
<rect x="865" y="784" width="1" height="6" fill="#5fa55c"/>
<rect x="871" y="776" width="1" height="9" fill="#d5423a"/>
<rect x="877" y="767" width="1" height="18" fill="#d5423a"/>
<rect x="883" y="761" width="1" height="24" fill="#d5423a"/>
<rect x="889" y="754" width="1" height="31" fill="#d5423a"/>
<rect x="895" y="755" width="1" height="30" fill="#d5423a"/>
<rect x="901" y="770" width="1" height="15" fill="#d5423a"/>
<rect x="907" y="784" width="1" height="1" fill="#5fa55c"/>
<rect x="913" y="784" width="1" height="9" fill="#5fa55c"/>
<rect x="919" y="784" width="1" height="17" fill="#5fa55c"/>
<rect x="925" y="784" width="1" height="22" fill="#5fa55c"/>
<rect x="931" y="784" width="1" height="31" fill="#5fa55c"/>
<rect x="937" y="784" width="1" height="31" fill="#5fa55c"/>
<rect x="943" y="784" width="1" height="24" fill="#5fa55c"/>
<rect x="949" y="784" width="1" height="17" fill="#5fa55c"/>
<rect x="955" y="784" width="1" height="1" fill="#5fa55c"/>
<rect x="961" y="774" width="1" height="11" fill="#d5423a"/>
<rect x="967" y="771" width="1" height="14" fill="#d5423a"/>
<rect x="973" y="771" width="1" height="14" fill="#d5423a"/>
</g>
<polyline fill="none" stroke="#000" stroke-width="1" shape-rendering="crispEdges" points="91.5,825.5 97.5,812.8 103.5,808.4 109.5,811.2 115.5,803 121.5,786.8 127.5,779.6 133.5,753.6 139.5,750.4 145.5,747.3 151.5,750.1 157.5,751.5 163.5,763.8 169.5,776.5 175.5,789.1 181.5,792.6 187.5,807.3 193.5,818.8 199.5,816.3 205.5,809.3 211.5,811.2 217.5,811.2 223.5,820.4 229.5,817.2 235.5,821.1 241.5,823.5 247.5,816.4 253.5,814.3 259.5,810.4 265.5,813.2 271.5,824.6 277.5,827.9 283.5,829 289.5,816.1 295.5,808.5 301.5,803 307.5,799.5 313.5,801.4 319.5,808.5 325.5,817.2 331.5,826.2 337.5,833 343.5,841.7 349.5,847.2 355.5,847.2 361.5,840.4 367.5,836.6 373.5,822.7 379.5,815 385.5,809 391.5,801.9 397.5,793.2 403.5,783.7 409.5,768.7 415.5,765.6 421.5,758.5 427.5,756.6 433.5,764.8 439.5,780.6 445.5,790.9 451.5,793.5 457.5,793.2 463.5,779 469.5,766.4 475.5,742.7 481.5,726.9 487.5,737.1 493.5,744.6 499.5,751.4 505.5,764.8 511.5,776.3 517.5,781.4 523.5,781.6 529.5,787.4 535.5,796.4 541.5,795.3 547.5,799 553.5,796.6 559.5,793 565.5,790.9 571.5,783.9 577.5,792.2 583.5,787.9 589.5,786.3 595.5,787.4 601.5,791.4 607.5,794.5 613.5,799.3 619.5,792.2 625.5,790.1 631.5,786.6 637.5,791.4 643.5,799.6 649.5,798.5 655.5,797.4 661.5,800.4 667.5,800.6 673.5,804.6 679.5,815.3 685.5,817.7 691.5,812.2 697.5,803.5 703.5,802.4 709.5,802.4 715.5,792.4 721.5,777.4 727.5,771.9 733.5,771.6 739.5,773.5 745.5,776.6 751.5,775.5 757.5,778.2 763.5,775.1 769.5,765.6 775.5,756.9 781.5,744.6 787.5,744.2 793.5,740.6 799.5,741.4 805.5,749 811.5,759.5 817.5,765.1 823.5,768.2 829.5,766.3 835.5,766.3 841.5,766.3 847.5,766.3 853.5,769.5 859.5,772.2 865.5,769 871.5,761.9 877.5,755.3 883.5,749.3 889.5,742.1 895.5,739.3 901.5,744.5 907.5,752.4 913.5,757.6 919.5,763.5 925.5,768.5 931.5,776.1 937.5,780.4 943.5,779.3 949.5,778.2 955.5,770.3 961.5,763.1 967.5,760.3 973.5,759.4"/>
<polyline fill="none" stroke="#0000b4" stroke-width="1" shape-rendering="crispEdges" points="91.5,863.4 97.5,853.9 103.5,844.7 109.5,835.7 115.5,827 121.5,819.9 127.5,812 133.5,801.8 139.5,791.5 145.5,783.6 151.5,777.3 157.5,772.1 163.5,769.4 169.5,770.2 175.5,774.1 181.5,778.1 187.5,784.1 193.5,791.5 199.5,796.2 205.5,798.6 211.5,801 217.5,803 223.5,805.7 229.5,808.1 235.5,811.6 241.5,813.7 247.5,814.8 253.5,814.5 259.5,813.5 265.5,813.7 271.5,816.4 277.5,818.8 283.5,820.5 289.5,819.9 295.5,817.5 301.5,815.3 307.5,812.4 313.5,809.6 319.5,809.6 325.5,811.3 331.5,814 337.5,817.6 343.5,822.4 349.5,827.4 355.5,831.4 361.5,833.4 367.5,833.4 373.5,831.1 379.5,828 385.5,824 391.5,818.8 397.5,813.4 403.5,807.4 409.5,800.3 415.5,793.2 421.5,786.6 427.5,780.6 433.5,777.4 439.5,777.7 445.5,780.3 451.5,783.3 457.5,785.3 463.5,783 469.5,778.5 475.5,769.5 481.5,760.8 487.5,757.2 493.5,755.3 499.5,754.5 505.5,756.6 511.5,760.5 517.5,764.8 523.5,768.5 529.5,772.7 535.5,777.2 541.5,780.3 547.5,783.9 553.5,786.6 559.5,787.9 565.5,788.5 571.5,788.2 577.5,788.5 583.5,788.2 589.5,787.9 595.5,788.2 601.5,788.7 607.5,790.3 613.5,791.4 619.5,791.7 625.5,791.4 631.5,790.6 637.5,790.6 643.5,792.2 649.5,793.4 655.5,794.5 661.5,795.6 667.5,796.7 673.5,798.8 679.5,801.1 685.5,804.3 691.5,806.7 697.5,805.5 703.5,805.1 709.5,804.3 715.5,801.9 721.5,797.2 727.5,792.4 733.5,788.5 739.5,785.3 745.5,783.7 751.5,781.8 757.5,781.4 763.5,779.8 769.5,777.1 775.5,773 781.5,767.2 787.5,762.4 793.5,758.5 799.5,755.6 805.5,754.5 811.5,755.9 817.5,757.6 823.5,759.2 829.5,760.6 835.5,761.9 841.5,763 847.5,763.8 853.5,765.1 859.5,766.6 865.5,766.6 871.5,765.4 877.5,763.5 883.5,760.8 889.5,756.7 895.5,753.2 901.5,751.3 907.5,751.6 913.5,753.2 919.5,755.1 925.5,757.2 931.5,761.1 937.5,764.7 943.5,767.9 949.5,770.3 955.5,770.3 961.5,768.5 967.5,767.2 973.5,765.4"/>
<g shape-rendering="crispEdges">
<rect x="683" y="627" width="7" height="1" fill="#000"/>
<rect x="685" y="625" width="1" height="4" fill="#000"/>
<rect x="965" y="471" width="7" height="1" fill="#000"/>
<rect x="967" y="469" width="1" height="5" fill="#000"/>
</g>
<text x="690.3" y="639" font-size="12" fill="#5aa05a" font-weight="bold">96.2109</text>
<text x="972.5" y="468" font-size="12" fill="#d0392f" font-weight="bold">100.390</text>
<rect x="0" y="0" width="1016" height="21" fill="#e9e9f2"/>
<g shape-rendering="crispEdges">
<rect x="0" y="21" width="1016" height="1" fill="#d2d4dc"/>
<rect x="67" y="0" width="1" height="22" fill="#f5f5f9"/>
<rect x="68" y="0" width="1" height="21" fill="#d0d1db"/>
<rect x="137" y="0" width="1" height="22" fill="#f5f5f9"/>
<rect x="138" y="0" width="1" height="21" fill="#d0d1db"/>
<rect x="205" y="0" width="1" height="22" fill="#f5f5f9"/>
<rect x="206" y="0" width="1" height="21" fill="#d0d1db"/>
<rect x="252" y="0" width="1" height="22" fill="#f5f5f9"/>
<rect x="253" y="0" width="1" height="21" fill="#d0d1db"/>
<rect x="299" y="0" width="1" height="22" fill="#f5f5f9"/>
<rect x="300" y="0" width="1" height="21" fill="#d0d1db"/>
<rect x="346" y="0" width="1" height="22" fill="#f5f5f9"/>
<rect x="347" y="0" width="1" height="21" fill="#d0d1db"/>
<rect x="393" y="0" width="1" height="22" fill="#f5f5f9"/>
<rect x="394" y="0" width="1" height="21" fill="#d0d1db"/>
<rect x="421" y="0" width="1" height="22" fill="#f5f5f9"/>
<rect x="422" y="0" width="1" height="21" fill="#d0d1db"/>
<rect x="449" y="0" width="1" height="22" fill="#f5f5f9"/>
<rect x="450" y="0" width="1" height="21" fill="#d0d1db"/>
<rect x="477" y="0" width="1" height="22" fill="#f5f5f9"/>
<rect x="478" y="0" width="1" height="21" fill="#d0d1db"/>
<rect x="505" y="0" width="1" height="22" fill="#f5f5f9"/>
<rect x="506" y="0" width="1" height="21" fill="#d0d1db"/>
<rect x="533" y="0" width="1" height="22" fill="#f5f5f9"/>
<rect x="534" y="0" width="1" height="21" fill="#d0d1db"/>
<rect x="561" y="0" width="1" height="22" fill="#f5f5f9"/>
<rect x="562" y="0" width="1" height="21" fill="#d0d1db"/>
<rect x="589" y="0" width="1" height="22" fill="#f5f5f9"/>
<rect x="590" y="0" width="1" height="21" fill="#d0d1db"/>
<rect x="617" y="0" width="1" height="22" fill="#f5f5f9"/>
<rect x="618" y="0" width="1" height="21" fill="#d0d1db"/>
<rect x="645" y="0" width="1" height="22" fill="#f5f5f9"/>
<rect x="646" y="0" width="1" height="21" fill="#d0d1db"/>
<rect x="673" y="0" width="1" height="22" fill="#f5f5f9"/>
<rect x="674" y="0" width="1" height="21" fill="#d0d1db"/>
<rect x="743" y="0" width="1" height="22" fill="#f5f5f9"/>
<rect x="744" y="0" width="1" height="21" fill="#d0d1db"/>
<rect x="771" y="0" width="1" height="22" fill="#f5f5f9"/>
<rect x="772" y="0" width="1" height="21" fill="#d0d1db"/>
<rect x="819" y="0" width="1" height="22" fill="#f5f5f9"/>
<rect x="820" y="0" width="1" height="21" fill="#d0d1db"/>
<rect x="866" y="0" width="1" height="22" fill="#f5f5f9"/>
<rect x="867" y="0" width="1" height="21" fill="#d0d1db"/>
<rect x="913" y="0" width="1" height="22" fill="#f5f5f9"/>
<rect x="914" y="0" width="1" height="21" fill="#d0d1db"/>
<rect x="940" y="0" width="1" height="22" fill="#f5f5f9"/>
<rect x="941" y="0" width="1" height="21" fill="#d0d1db"/>
<rect x="968" y="0" width="1" height="22" fill="#f5f5f9"/>
<rect x="969" y="0" width="1" height="21" fill="#d0d1db"/>
</g>
<path d="M11.3 7.6 L17.3 2.4 V5.6 C22.6 5.8 25.2 9 25 13.9 C23.6 11 21.4 9.9 17.3 9.9 V12.8 Z" fill="#383d48"/>
<text x="27" y="13" font-size="12.5" fill="#383d48">返回</text>
<path d="M81.8 8.9 L88.7 2.6 L95.6 8.9 H93.9 V14.5 H90.2 V10.4 H87.2 V14.5 H83.5 V8.9 Z" fill="#383d48"/>
<text x="99" y="13" font-size="12.5" fill="#383d48">首页</text>
<path d="M176.9 13.4 A6.3 6.3 0 1 1 179 8.2" fill="none" stroke="#383d48" stroke-width="1.7"/><path d="M176.4 7.6 L182.2 7 L179.6 11.8 Z" fill="#383d48"/>
<g fill="#383d48"><rect x="220.5" y="12" width="2.6" height="3.6"/><rect x="225" y="9.9" width="2.6" height="5.7"/><rect x="230" y="10.8" width="2.8" height="4.8"/><rect x="234.8" y="5.6" width="3" height="10"/></g><path d="M220.2 10.4 L227 4.5 L230.5 8 L237.7 1.6" fill="none" stroke="#383d48" stroke-width="1.4"/>
<g fill="#383d48"><rect x="266.4" y="5.6" width="3.4" height="6" rx="0.8"/><rect x="267.6" y="4.5" width="1" height="8"/><rect x="271.9" y="2.9" width="3.4" height="6.8" rx="0.8"/><rect x="273.1" y="1.3" width="1" height="13.7"/><rect x="277.1" y="7.2" width="3.4" height="5.6" rx="0.8"/><rect x="278.3" y="4.8" width="1" height="9.9"/><rect x="282.3" y="5.6" width="3.4" height="6.4" rx="0.8"/><rect x="283.5" y="3.2" width="1" height="11.2"/></g>
<text x="310.3" y="13.8" font-size="16" fill="#383d48" textLength="24.8" lengthAdjust="spacingAndGlyphs">tick</text>
<text x="360" y="13" font-size="13.5" fill="#383d48">5</text>
<text x="367.8" y="13" font-size="12.5" fill="#383d48">日</text>
<text x="407.8" y="13" font-size="13.5" fill="#383d48" text-anchor="middle">5</text>
<text x="435.4" y="13" font-size="13.5" fill="#383d48" text-anchor="middle">15</text>
<text x="463.8" y="13" font-size="13.5" fill="#383d48" text-anchor="middle">30</text>
<text x="491.5" y="13" font-size="13.5" fill="#383d48" text-anchor="middle">60</text>
<text x="511" y="13" font-size="13.5" fill="#383d48" textLength="14.5" lengthAdjust="spacingAndGlyphs">2H</text>
<text x="539" y="13" font-size="13.5" fill="#383d48" textLength="16.5" lengthAdjust="spacingAndGlyphs">4H</text>
<text x="570" y="13" font-size="12.5" fill="#383d48">日</text>
<text x="597.3" y="13" font-size="12.5" fill="#383d48">周</text>
<text x="624.8" y="13" font-size="12.5" fill="#383d48">月</text>
<text x="653.6" y="13" font-size="12.5" fill="#383d48">年</text>
<g fill="#383d48"><rect x="688" y="2.6" width="13.6" height="2.2" rx="1"/><rect x="688" y="7" width="13.6" height="2.2" rx="1"/><rect x="688" y="11.4" width="13.6" height="2.4" rx="1"/></g>
<text x="705.8" y="13" font-size="12.5" fill="#383d48">更多</text>
<path d="M758.6 3.4 C756.6 1.8 754.8 2.6 754.4 5 L753 13 C752.7 15 751.8 15.6 750.6 14.9" fill="none" stroke="#383d48" stroke-width="1.9" stroke-linecap="round"/><path d="M751.6 7.2 H757.6" stroke="#383d48" stroke-width="1.7"/><path d="M759.8 8.8 L765.6 14.6 M765.6 8.8 L759.8 14.6" stroke="#383d48" stroke-width="1.9"/>
<circle cx="796" cy="7.8" r="6.1" fill="none" stroke="#383d48" stroke-width="1.2"/><path d="M800.3 12.2 L803.2 15.2" stroke="#383d48" stroke-width="1.4"/><path d="M793 7.8 H799" stroke="#383d48" stroke-width="1.2"/>
<circle cx="843.3" cy="7.8" r="6.1" fill="none" stroke="#383d48" stroke-width="1.2"/><path d="M847.5999999999999 12.2 L850.5 15.2" stroke="#383d48" stroke-width="1.4"/><path d="M840.3 7.8 H846.3" stroke="#383d48" stroke-width="1.2"/>
<path d="M843.3 4.8 V10.8" stroke="#383d48" stroke-width="1.2"/>
<path d="M885 13 L885.9 9.7 L892.2 3.4 L895 6.2 L888.6 12.5 Z M893 2.6 L894 1.6 L896.8 4.4 L895.8 5.4 Z" fill="#383d48"/><rect x="883" y="14.6" width="15" height="1.3" fill="#383d48"/>
<rect x="918" y="14.8" width="19.4" height="2" fill="#a2a3ad"/><path d="M918 1.3 H937.4" stroke="#383d48" stroke-width="1.1"/><path d="M918.6 15.8 L927.7 4.6 L936.8 15.8" fill="none" stroke="#383d48" stroke-width="1.2"/>
<rect x="945.6" y="0" width="19.4" height="1.6" fill="#a2a3ad"/><path d="M945.6 16 H965" stroke="#383d48" stroke-width="1.1"/><path d="M946.2 1.2 L955.5 12 L964.6 1.2" fill="none" stroke="#383d48" stroke-width="1.2"/>
<text x="976.6" y="14.4" font-size="14" fill="#383d48" font-weight="bold">$</text>
<text x="988" y="13" font-size="12.8" fill="#383d48">模拟交</text>
<rect x="0" y="22" width="16" height="214" fill="#e3e5ec"/>
<rect x="0" y="73" width="16" height="46" fill="#ff6600"/>
<text x="6.5" y="39.7" font-size="11.5" fill="#2c2f36" text-anchor="middle">分</text>
<text x="6.5" y="53.6" font-size="11.5" fill="#2c2f36" text-anchor="middle">时</text>
<text x="6.5" y="67.9" font-size="11.5" fill="#2c2f36" text-anchor="middle">图</text>
<text x="7.6" y="87.5" font-size="11" fill="#fff" text-anchor="middle" font-family="Liberation Serif, serif">K</text>
<text x="6.5" y="102.4" font-size="11.5" fill="#fff" text-anchor="middle">线</text>
<text x="6.5" y="116.5" font-size="11.5" fill="#fff" text-anchor="middle">图</text>
<text x="6.5" y="137.9" font-size="11.5" fill="#2c2f36" text-anchor="middle">闪</text>
<text x="6.5" y="151.7" font-size="11.5" fill="#2c2f36" text-anchor="middle">电</text>
<text x="6.5" y="165.9" font-size="11.5" fill="#2c2f36" text-anchor="middle">图</text>
<text x="6.5" y="188.8" font-size="11.5" fill="#2c2f36" text-anchor="middle">合</text>
<text x="6.5" y="203.4" font-size="11.5" fill="#2c2f36" text-anchor="middle">约</text>
<text x="6.5" y="218.1" font-size="11.5" fill="#2c2f36" text-anchor="middle">资</text>
<text x="6.5" y="232.1" font-size="11.5" fill="#2c2f36" text-anchor="middle">料</text>
<g shape-rendering="crispEdges">
<rect x="0" y="71" width="16" height="1" fill="#f1f2f6"/>
<rect x="0" y="120" width="16" height="1" fill="#f1f2f6"/>
<rect x="0" y="171" width="16" height="1" fill="#f1f2f6"/>
</g>
<rect x="19.5" y="33.5" width="67" height="290" fill="#fff" stroke="#c9d3dd" shape-rendering="crispEdges"/>
<text x="20.5 36.5" y="46.5" font-size="12" fill="#2c2f36">时间</text>
<text x="21.2" y="65.6" font-size="12" fill="#333" textLength="51.5" lengthAdjust="spacingAndGlyphs">25-11-18</text>
<text x="20.5 36.5" y="82.5" font-size="12" fill="#2c2f36">开盘</text>
<text x="21.2" y="101.6" font-size="12" fill="#e03a3a">99.5390</text>
<text x="20.5 36.5" y="118.5" font-size="12" fill="#2c2f36">最高</text>
<text x="21.2" y="137.6" font-size="12" fill="#e03a3a">99.6619</text>
<text x="20.5 36.5" y="154.5" font-size="12" fill="#2c2f36">最低</text>
<text x="21.2" y="173.6" font-size="12" fill="#1a9a1a">99.3960</text>
<text x="20.5 36.5" y="190.5" font-size="12" fill="#2c2f36">收盘</text>
<text x="21.2" y="209.6" font-size="12" fill="#e03a3a">99.5950</text>
<text x="20.5 36.5" y="226.5" font-size="12" fill="#2c2f36">涨跌</text>
<text x="21.2" y="245.6" font-size="12" fill="#e03a3a" textLength="44.3" lengthAdjust="spacingAndGlyphs">+0.0611</text>
<text x="20.5 36.5" y="262.5" font-size="12" fill="#2c2f36">涨幅</text>
<text x="21.2" y="281.6" font-size="12" fill="#e03a3a" textLength="42.5" lengthAdjust="spacingAndGlyphs">+0.06%</text>
<text x="20.5 36.5" y="298.5" font-size="12" fill="#2c2f36">振幅</text>
<text x="21.2" y="317.6" font-size="12" fill="#333" textLength="35" lengthAdjust="spacingAndGlyphs">0.27%</text>
<text x="89.5" y="35.8" font-size="12" fill="#000" font-weight="bold">美元指数</text>
<text x="138" y="35.8" font-size="12" fill="#ff8000">【日线】</text>
<circle cx="189.5" cy="33.3" r="4" fill="none" stroke="#ff8000" stroke-width="0.8"/><path d="M185.5 33.3 H193.5 M189.5 29.3 V37.3" stroke="#ff8000" stroke-width="0.8"/>
<rect x="203.2" y="23.8" width="10.4" height="12.2" fill="#fff" stroke="#15158a" stroke-width="1.3"/><path d="M204 29.5 L206.3 26.6 L208.6 29.8 L212.8 25.6" fill="none" stroke="#e81010" stroke-width="1.1"/><path d="M204 32.8 L206.5 30.2 L209 33 L212.8 29.6" fill="none" stroke="#1a1ab0" stroke-width="1"/>
<text x="217.5" y="35.5" font-size="12" fill="#111" textLength="91.5" lengthAdjust="spacingAndGlyphs">MA1(50,0,200,0)</text>
<text x="315" y="35.5" font-size="12" fill="#111" textLength="80" lengthAdjust="spacingAndGlyphs">MA50:98.6049</text>
<text x="405" y="35.5" font-size="12" fill="#0000b4" textLength="74" lengthAdjust="spacingAndGlyphs">MA0:99.5950</text>
<text x="487.5" y="35.5" font-size="12" fill="#ff00ff" textLength="88" lengthAdjust="spacingAndGlyphs">MA200:99.9514</text>
<text x="584.5" y="35.5" font-size="12" fill="#ff7800" textLength="74" lengthAdjust="spacingAndGlyphs">MA0:99.5950</text>
<circle cx="26.5" cy="675" r="3.6" fill="none" stroke="#000" stroke-width="0.9"/><circle cx="26.5" cy="675" r="2" fill="#f00"/>
<path d="M26.5 668 V670 M26.5 680 V682 M19.5 675 H21.5 M31.5 675 H33.5 M21.5 670 L23 671.5 M30 678.5 L31.5 680 M21.5 680 L23 678.5 M30 671.5 L31.5 670" stroke="#f00" stroke-width="1"/>
<text x="89.5" y="682" font-size="12" fill="#111" textLength="79" lengthAdjust="spacingAndGlyphs">MACD(13,8,9)</text>
<text x="89.8" y="682" font-size="12" fill="#000" font-weight="bold">M</text>
<text x="172" y="682" font-size="12" fill="#111" textLength="66" lengthAdjust="spacingAndGlyphs">DIFF:0.0334</text>
<text x="246" y="682" font-size="12" fill="#0000b4" textLength="64" lengthAdjust="spacingAndGlyphs">DEA:0.0793</text>
<text x="319" y="682" font-size="12" fill="#ff00ff" textLength="83" lengthAdjust="spacingAndGlyphs">MACD:-0.0918</text>
<g shape-rendering="crispEdges">
<rect x="17" y="942" width="999" height="1" fill="#cfd6df"/>
<rect x="88" y="940" width="928" height="1" fill="#edf0f5"/>
<rect x="0" y="958" width="1016" height="2" fill="#cbd3dc"/>
<rect x="91" y="924" width="1" height="4" fill="#c5ccd6"/>
<rect x="223" y="924" width="1" height="4" fill="#c5ccd6"/>
<rect x="349" y="924" width="1" height="4" fill="#c5ccd6"/>
<rect x="487" y="924" width="1" height="4" fill="#c5ccd6"/>
<rect x="613" y="924" width="1" height="4" fill="#c5ccd6"/>
<rect x="745" y="924" width="1" height="4" fill="#c5ccd6"/>
<rect x="883" y="924" width="1" height="4" fill="#c5ccd6"/>
</g>
<text x="93" y="936.2" font-size="12.3" fill="#1c1e24" font-weight="bold" textLength="44.5" lengthAdjust="spacingAndGlyphs">2025/05</text>
<text x="226" y="936.2" font-size="12.3" fill="#1c1e24" font-weight="bold" textLength="44.5" lengthAdjust="spacingAndGlyphs">2025/06</text>
<text x="352" y="936.2" font-size="12.3" fill="#1c1e24" font-weight="bold" textLength="44.5" lengthAdjust="spacingAndGlyphs">2025/07</text>
<text x="490" y="936.2" font-size="12.3" fill="#1c1e24" font-weight="bold" textLength="44.5" lengthAdjust="spacingAndGlyphs">2025/08</text>
<text x="616" y="936.2" font-size="12.3" fill="#1c1e24" font-weight="bold" textLength="44.5" lengthAdjust="spacingAndGlyphs">2025/09</text>
<text x="748" y="936.2" font-size="12.3" fill="#1c1e24" font-weight="bold" textLength="44.5" lengthAdjust="spacingAndGlyphs">2025/10</text>
<text x="886" y="936.2" font-size="12.3" fill="#1c1e24" font-weight="bold" textLength="44.5" lengthAdjust="spacingAndGlyphs">2025/11</text>
<text x="32.2" y="938.8" font-size="12.5" fill="#ff7800" font-weight="bold">日线</text>
<path d="M61.3 938 L65.8 930 L70.3 938 Z" fill="#ff7800"/>
<rect x="17" y="943" width="39" height="15" fill="#ff6600"/>
<text x="24.8" y="955.8" font-size="12" fill="#fff" font-weight="bold">指标</text>
<text x="65.2" y="955.8" font-size="12" fill="#1c1e24">模板</text>
<text x="104.8" y="955" font-size="11" fill="#ff7800" textLength="17.6" lengthAdjust="spacingAndGlyphs" font-family="Liberation Serif, serif">VIP</text>
<text x="123.8" y="955.8" font-size="12" fill="#ff7800">指标</text>
<text x="163" y="955" font-size="11" fill="#1c1e24" textLength="11.6" lengthAdjust="spacingAndGlyphs" font-family="Liberation Serif, serif">MA</text>
<text x="191" y="955" font-size="11" fill="#1c1e24" textLength="23.6" lengthAdjust="spacingAndGlyphs" font-family="Liberation Serif, serif">MACD</text>
<text x="231.5" y="955" font-size="11" fill="#1c1e24" textLength="23.6" lengthAdjust="spacingAndGlyphs" font-family="Liberation Serif, serif">BOLL</text>
<text x="271" y="955" font-size="11" fill="#1c1e24" textLength="17.6" lengthAdjust="spacingAndGlyphs" font-family="Liberation Serif, serif">VOL</text>
<text x="305" y="955" font-size="11" fill="#1c1e24" textLength="23.6" lengthAdjust="spacingAndGlyphs" font-family="Liberation Serif, serif">BIAS</text>
<text x="345" y="955" font-size="11" fill="#1c1e24" textLength="17.6" lengthAdjust="spacingAndGlyphs" font-family="Liberation Serif, serif">CCI</text>
<text x="378.5" y="955" font-size="11" fill="#1c1e24" textLength="17.6" lengthAdjust="spacingAndGlyphs" font-family="Liberation Serif, serif">KDJ</text>
<text x="415.5" y="955" font-size="11" fill="#1c1e24" textLength="17.6" lengthAdjust="spacingAndGlyphs" font-family="Liberation Serif, serif">LW&amp;</text>
<text x="453" y="955" font-size="11" fill="#1c1e24" textLength="17.6" lengthAdjust="spacingAndGlyphs" font-family="Liberation Serif, serif">RSI</text>
<text x="487.5" y="955" font-size="11" fill="#1c1e24" textLength="11.6" lengthAdjust="spacingAndGlyphs" font-family="Liberation Serif, serif">CR</text>
<text x="515" y="955" font-size="11" fill="#1c1e24" textLength="17.6" lengthAdjust="spacingAndGlyphs" font-family="Liberation Serif, serif">PSY</text>
<text x="548.8" y="955.8" font-size="12" fill="#1c1e24">设置</text>
<g shape-rendering="crispEdges">
<rect x="56" y="943" width="1" height="15" fill="#cfd6df"/>
<rect x="96" y="943" width="1" height="15" fill="#cfd6df"/>
<rect x="154" y="943" width="1" height="15" fill="#cfd6df"/>
<rect x="182" y="943" width="1" height="15" fill="#cfd6df"/>
<rect x="222" y="943" width="1" height="15" fill="#cfd6df"/>
<rect x="263" y="943" width="1" height="15" fill="#cfd6df"/>
<rect x="296" y="943" width="1" height="15" fill="#cfd6df"/>
<rect x="336" y="943" width="1" height="15" fill="#cfd6df"/>
<rect x="370" y="943" width="1" height="15" fill="#cfd6df"/>
<rect x="404" y="943" width="1" height="15" fill="#cfd6df"/>
<rect x="444" y="943" width="1" height="15" fill="#cfd6df"/>
<rect x="478" y="943" width="1" height="15" fill="#cfd6df"/>
<rect x="507" y="943" width="1" height="15" fill="#cfd6df"/>
<rect x="540" y="943" width="1" height="15" fill="#cfd6df"/>
<rect x="580" y="943" width="1" height="15" fill="#cfd6df"/>
</g>
<g shape-rendering="crispEdges">
<rect x="0" y="968" width="1016" height="1" fill="#cdd3da"/>
<rect x="739" y="962" width="180" height="6" fill="#b6b6ba"/>
<rect x="43" y="969" width="1" height="12" fill="#cdd3da"/>
</g>
<path d="M817.5 968 L829 961.5 L840.5 968 Z" fill="#6a6a6e"/>
<text x="9.3" y="984.2" font-size="12" fill="#1c1e24">资讯</text>
<text x="888.7" y="956.9" fill="#c9b7a4" font-size="31.3" textLength="97.3" lengthAdjust="spacing">FX678</text>
<text x="887.5" y="955.8" fill="#ffffff" font-size="31.3" textLength="97.3" lengthAdjust="spacing">FX678</text>
<text x="888.1" y="956.3" fill="#d9e7f7" stroke="#d9e7f7" stroke-width="0.25" font-size="31.3" textLength="97.3" lengthAdjust="spacing">FX678</text>
</svg></body></html>
